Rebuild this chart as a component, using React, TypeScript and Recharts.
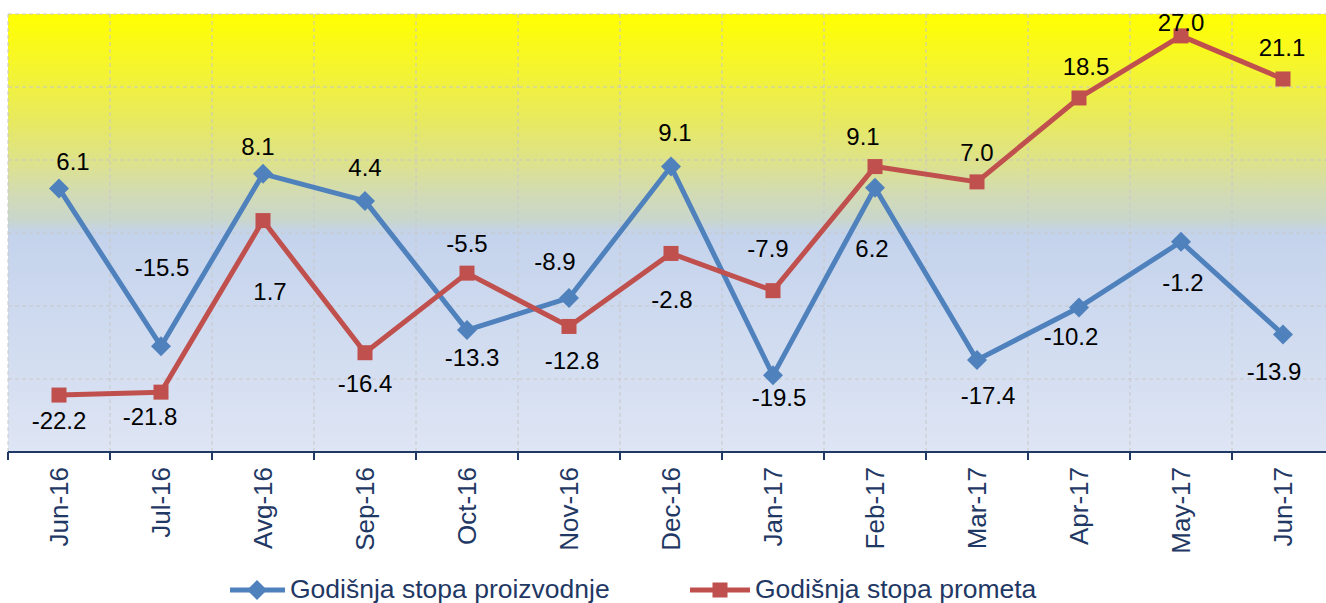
import React from "react";
import {
  LineChart,
  Line,
  XAxis,
  YAxis,
  CartesianGrid,
  Legend,
  LabelList,
} from "recharts";

const months = [
  "Jun-16", "Jul-16", "Avg-16", "Sep-16", "Oct-16", "Nov-16", "Dec-16",
  "Jan-17", "Feb-17", "Mar-17", "Apr-17", "May-17", "Jun-17",
];
const proizvodnja = [6.1, -15.5, 8.1, 4.4, -13.3, -8.9, 9.1, -19.5, 6.2, -17.4, -10.2, -1.2, -13.9];
const promet = [-22.2, -21.8, 1.7, -16.4, -5.5, -12.8, -2.8, -7.9, 9.1, 7.0, 18.5, 27.0, 21.1];
const yTicks = [-30, -20, -10, 0, 10, 20, 30];

const seriesNames = ["Godišnja stopa proizvodnje", "Godišnja stopa prometa"];

// hand placed label offsets (px), like the original chart
const prodLabelDx = [14, 1, -5, 0, 5, -14, 4, 6, -3, 11, -8, 2, -9];
const prodLabelDy = [-27, -79, -27, -33, 27, -36, -34, 22, 61, 35, 29, 41, 37];
const promLabelDx = [0, -11, 7, 0, 0, 3, 1, -5, -12, 0, 7, 0, -1];
const promLabelDy = [25, 24, 71, 31, -30, 34, 46, -42, -30, -29, -31, -13, -31];

const BLUE = "#4F81BD";
const RED = "#C0504D";
const NAVY = "#1F3864";
const FONT = "'Liberation Sans', Arial, sans-serif";

const data = months.map((m, i) => ({
  x: i + 0.5,
  month: m,
  proizvodnja: proizvodnja[i],
  promet: promet[i],
}));

const xTicks = [
  ...months.map((_, i) => i),
  months.length,
  ...months.map((_, i) => i + 0.5),
].sort((a, b) => a - b);

function AxisTick(props: any) {
  const { x, y, payload } = props;
  const v = payload.value;
  if (Number.isInteger(v)) {
    return <line x1={x} y1={y} x2={x} y2={y + 8} stroke={NAVY} strokeWidth={2} />;
  }
  const label = months[Math.floor(v)];
  return (
    <g transform={`translate(${x},${y + 15}) rotate(-90)`}>
      <text
        x={0}
        y={0}
        dy="0.36em"
        textAnchor="end"
        fill={NAVY}
        fontSize={26}
        fontFamily={FONT}
      >
        {label}
      </text>
    </g>
  );
}

function makeLabel(dxs: number[], dys: number[]) {
  return (props: any) => {
    const { x, y, value, index } = props;
    return (
      <text
        x={x + dxs[index]}
        y={y + dys[index]}
        textAnchor="middle"
        dominantBaseline="central"
        fill="#000"
        fontSize={24}
        fontFamily={FONT}
      >
        {Number(value).toFixed(1)}
      </text>
    );
  };
}

function Diamond(props: any) {
  const { cx, cy, index } = props;
  if (cx == null || cy == null) return <g key={`d-${index}`} />;
  const r = 10;
  return (
    <path
      key={`d-${index}`}
      d={`M${cx},${cy - r}L${cx + r},${cy}L${cx},${cy + r}L${cx - r},${cy}Z`}
      fill={BLUE}
    />
  );
}

function Square(props: any) {
  const { cx, cy, index } = props;
  if (cx == null || cy == null) return <g key={`s-${index}`} />;
  const s = 15;
  return <rect key={`s-${index}`} x={cx - s / 2} y={cy - s / 2} width={s} height={s} fill={RED} />;
}

function LegendContent() {
  return (
    <svg width={1300} height={40} style={{ display: "block" }}>
      <line x1={222} y1={27} x2={277} y2={27} stroke={BLUE} strokeWidth={5} />
      <path d="M249,17L259,27L249,37L239,27Z" fill={BLUE} />
      <text x={282} y={35} fill={NAVY} fontSize={26.5} fontFamily={FONT}>
        {seriesNames[0]}
      </text>
      <line x1={682} y1={27} x2={742} y2={27} stroke={RED} strokeWidth={5} />
      <rect x={704.5} y={19.5} width={15} height={15} fill={RED} />
      <text x={747} y={35} fill={NAVY} fontSize={26.5} fontFamily={FONT}>
        {seriesNames[1]}
      </text>
    </svg>
  );
}

export default function App() {
  return (
    <div
      style={{
        position: "fixed",
        left: 0,
        top: 0,
        width: 1326,
        height: 603,
        overflow: "hidden",
        background: "#fff",
      }}
    >
      <LineChart
        width={1340}
        height={603}
        data={data}
        margin={{ top: 14, right: 6, bottom: 0, left: 8 }}
      >
        <defs>
          <linearGradient id="plotBg" x1="0" y1="0" x2="0" y2="1">
            <stop offset="0" stopColor="#FFFF00" />
            <stop offset="0.1" stopColor="#F7F726" />
            <stop offset="0.25" stopColor="#E7E962" />
            <stop offset="0.34" stopColor="#DDE28C" />
            <stop offset="0.41" stopColor="#D2DBB4" />
            <stop offset="0.47" stopColor="#C9D6CC" />
            <stop offset="0.5" stopColor="#C4D3EC" />
            <stop offset="1" stopColor="#DEE5F4" />
          </linearGradient>
        </defs>
        <CartesianGrid
          stroke="#C8C8C8"
          strokeDasharray="4 3"
          fill="url(#plotBg)"
          fillOpacity={1}
          verticalCoordinatesGenerator={({ offset }: any) =>
            Array.from({ length: months.length + 1 }, (_, i) => offset.left + (i * offset.width) / months.length)
          }
        />
        <XAxis
          dataKey="x"
          type="number"
          domain={[0, months.length]}
          ticks={xTicks}
          interval={0}
          tickSize={0}
          tickMargin={0}
          tickLine={false}
          axisLine={{ stroke: NAVY, strokeWidth: 2 }}
          tick={<AxisTick />}
          height={111}
          allowDataOverflow
        />
        <YAxis hide domain={[-30, 30]} ticks={yTicks} allowDataOverflow />
        <Legend
          verticalAlign="bottom"
          align="left"
          height={40}
          content={<LegendContent />}
        />
        <Line
          type="linear"
          dataKey="proizvodnja"
          name={seriesNames[0]}
          stroke={BLUE}
          strokeWidth={5}
          strokeLinejoin="round"
          dot={(p: any) => <Diamond {...p} key={`d-${p.index}`} />}
          activeDot={false}
          isAnimationActive={false}
        >
          <LabelList dataKey="proizvodnja" content={makeLabel(prodLabelDx, prodLabelDy)} />
        </Line>
        <Line
          type="linear"
          dataKey="promet"
          name={seriesNames[1]}
          stroke={RED}
          strokeWidth={5}
          strokeLinejoin="round"
          dot={(p: any) => <Square {...p} key={`s-${p.index}`} />}
          activeDot={false}
          isAnimationActive={false}
        >
          <LabelList dataKey="promet" content={makeLabel(promLabelDx, promLabelDy)} />
        </Line>
      </LineChart>
    </div>
  );
}
